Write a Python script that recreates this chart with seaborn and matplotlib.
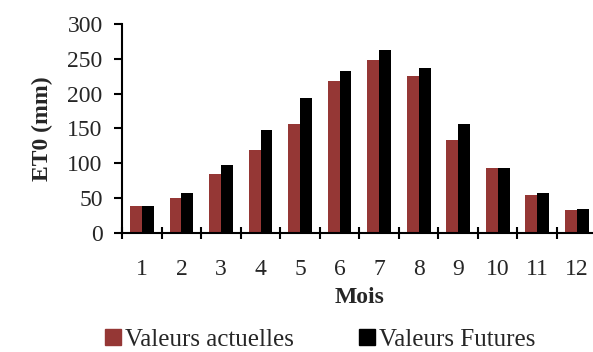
import pandas as pd
import matplotlib
matplotlib.use("Agg")
import matplotlib.pyplot as plt
import seaborn as sns
from matplotlib.ticker import FixedLocator

mois = ["1", "2", "3", "4", "5", "6", "7", "8", "9", "10", "11", "12"]
actuelles = [39, 50, 85, 119, 156, 218, 248, 225, 134, 93, 54, 33]
futures = [39, 57, 97, 148, 194, 233, 263, 237, 157, 94, 58, 34]
series = ["Valeurs actuelles", "Valeurs Futures"]
colors = ["#953735", "#000000"]

df = pd.DataFrame({
    "Mois": mois * 2,
    "ET0": actuelles + futures,
    "Serie": [series[0]] * 12 + [series[1]] * 12,
})

sns.set_style("white")
plt.rcParams["font.family"] = ["Liberation Serif", "DejaVu Serif"]

fig = plt.figure(figsize=(5.93, 3.52), dpi=100)
ax = fig.add_axes([0.206, 0.338, 0.80, 0.594])

sns.barplot(data=df, x="Mois", y="ET0", hue="Serie", order=mois,
            hue_order=series, palette=colors, width=0.6, saturation=1,
            edgecolor="none", linewidth=0, ax=ax, legend=False)

ax.set_xlim(-0.5, 11.5)
ax.set_ylim(0, 300)
ax.set_yticks(range(0, 301, 50))
ax.xaxis.set_minor_locator(FixedLocator([i - 0.5 for i in range(13)]))
ax.tick_params(axis="x", which="major", bottom=True, length=0,
               labelsize=17, pad=19)
ax.tick_params(axis="x", which="minor", bottom=True, length=9, width=1.5,
               direction="inout", color="black")
ax.tick_params(axis="y", left=True, length=6, width=1.5, direction="out",
               color="black", labelsize=17, pad=8)

for s in ["top", "right"]:
    ax.spines[s].set_visible(False)
for s in ["left", "bottom"]:
    ax.spines[s].set_color("black")
    ax.spines[s].set_linewidth(1.5)
ax.spines["bottom"].set_clip_on(False)

ax.set_xlabel("Mois", fontsize=17, fontweight="bold", labelpad=5)
ax.set_ylabel("ET0 (mm)", fontsize=17, fontweight="bold", labelpad=10)

handles = [plt.Rectangle((0, 0), 1, 1, color=c) for c in colors]
fig.legend(handles, series, loc="center", bbox_to_anchor=(0.54, 0.035),
           ncol=2, frameon=False, fontsize=18, handlelength=0.65,
           handleheight=0.65, handletextpad=0.15, columnspacing=2.6)

fig.savefig("out.png", dpi=100)
